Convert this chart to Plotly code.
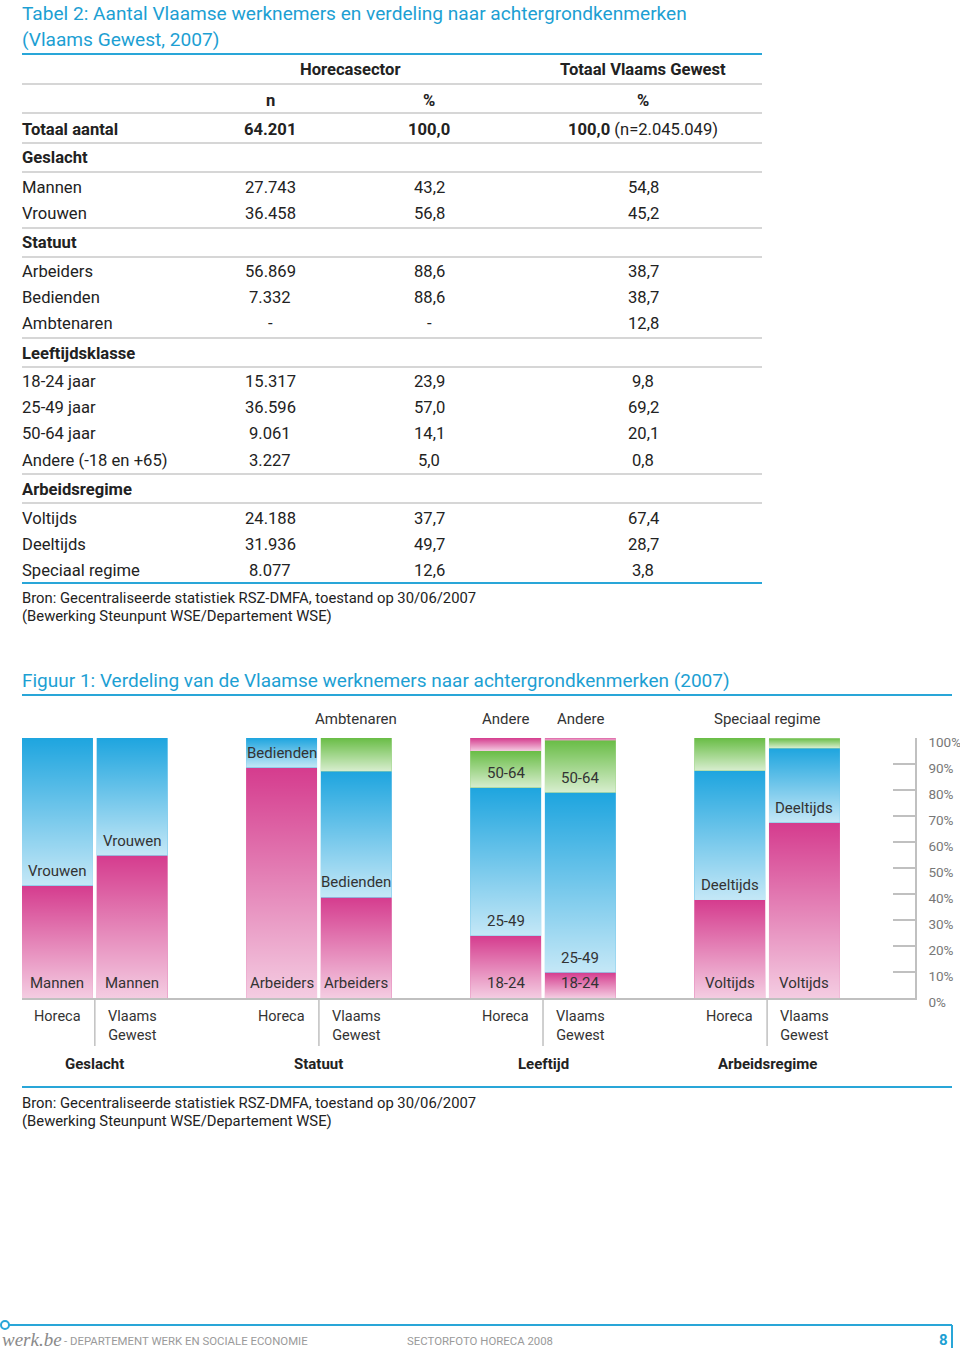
import base64
import plotly.graph_objects as go

W, H = 960, 1354
FONT = "Roboto"
BLUE_T = "#1d9fd3"
TXT = "#222222"

# ---------------- table data ----------------
table_title = ["Tabel 2: Aantal Vlaamse werknemers en verdeling naar achtergrondkenmerken",
               "(Vlaams Gewest, 2007)"]
col_groups = ["Horecasector", "Totaal Vlaams Gewest"]
col_heads = ["n", "%", "%"]
row_labels = ["Totaal aantal", "Geslacht", "Mannen", "Vrouwen", "Statuut", "Arbeiders",
              "Bedienden", "Ambtenaren", "Leeftijdsklasse", "18-24 jaar", "25-49 jaar",
              "50-64 jaar", "Andere (-18 en +65)", "Arbeidsregime", "Voltijds", "Deeltijds",
              "Speciaal regime"]
row_n = ["64.201", "", "27.743", "36.458", "", "56.869", "7.332", "-", "", "15.317", "36.596",
         "9.061", "3.227", "", "24.188", "31.936", "8.077"]
row_pct_horeca = ["100,0", "", "43,2", "56,8", "", "88,6", "88,6", "-", "", "23,9", "57,0",
                  "14,1", "5,0", "", "37,7", "49,7", "12,6"]
row_pct_vlaams = ["100,0", "", "54,8", "45,2", "", "38,7", "38,7", "12,8", "", "9,8", "69,2",
                  "20,1", "0,8", "", "67,4", "28,7", "3,8"]
row_bold = [True, True, False, False, True, False, False, False, True, False, False,
            False, False, True, False, False, False]
totaal_suffix = " (n=2.045.049)"
source_lines = ["Bron: Gecentraliseerde statistiek RSZ-DMFA, toestand op 30/06/2007",
                "(Bewerking Steunpunt WSE/Departement WSE)"]

# ---------------- chart data ----------------
fig_title = "Figuur 1: Verdeling van de Vlaamse werknemers naar achtergrondkenmerken (2007)"
group_names = ["Geslacht", "Statuut", "Leeftijd", "Arbeidsregime"]
bar_names = ["Horeca", "Vlaams<br>Gewest"]

geslacht_labels = ["Mannen", "Vrouwen"]
geslacht_horeca = [43.2, 56.8]
geslacht_vlaams = [54.8, 45.2]

statuut_labels = ["Arbeiders", "Bedienden", "Ambtenaren"]
statuut_horeca = [88.6, 11.4, 0.0]
statuut_vlaams = [38.7, 48.5, 12.8]

leeftijd_labels = ["18-24", "25-49", "50-64", "Andere"]
leeftijd_horeca = [23.9, 57.0, 14.1, 5.0]
leeftijd_vlaams = [9.8, 69.2, 20.1, 0.8]

regime_labels = ["Voltijds", "Deeltijds", "Speciaal regime"]
regime_horeca = [37.7, 49.7, 12.6]
regime_vlaams = [67.4, 28.7, 3.8]

y_ticks = [0, 10, 20, 30, 40, 50, 60, 70, 80, 90, 100]
y_ticktext = [f"{v}%" for v in y_ticks]

# ---------------- styling ----------------
MAG, BLU, GRN = "#d53c8e", "#1ea5df", "#69bd46"
groups = [
    (geslacht_labels, geslacht_horeca, geslacht_vlaams, [MAG, BLU], ["in", "in"]),
    (statuut_labels, statuut_horeca, statuut_vlaams, [MAG, BLU, GRN], ["in", "in", "top_v"]),
    (leeftijd_labels, leeftijd_horeca, leeftijd_vlaams, [MAG, BLU, GRN, MAG],
     ["in", "in", "in", "top_both"]),
    (regime_labels, regime_horeca, regime_vlaams, [MAG, BLU, GRN], ["in", "in", "top_group"]),
]
GROUP_STEP = 3
BAR_W = 0.95
LBL = 15
TB = 16.6  # table body font size
LX = 20    # left text anchor (annotation padding compensated)

svg = ("<svg xmlns='http://www.w3.org/2000/svg' width='10' height='100' viewBox='0 0 10 100' "
       "preserveAspectRatio='none'><defs><linearGradient id='g' x1='0' y1='0' x2='0' y2='1'>"
       "<stop offset='0' stop-color='white' stop-opacity='0'/>"
       "<stop offset='1' stop-color='white' stop-opacity='0.74'/></linearGradient></defs>"
       "<rect x='0' y='0' width='10' height='100' fill='url(#g)'/></svg>")
GRAD = "data:image/svg+xml;base64," + base64.b64encode(svg.encode()).decode()

fig = go.Figure()
annotations = []
images = []


def pa(x, y, text, size=TB, color=TXT, xanchor="left", family=FONT):
    annotations.append(dict(x=x / W, y=1 - y / H, xref="paper", yref="paper", text=text,
                            showarrow=False, xanchor=xanchor, yanchor="middle",
                            font=dict(size=size, color=color, family=family)))


for gi, (labels, vh, vv, colors, modes) in enumerate(groups):
    xs = [gi * GROUP_STEP, gi * GROUP_STEP + 1]
    base = [0.0, 0.0]
    for si, lab in enumerate(labels):
        vals = [vh[si], vv[si]]
        fig.add_trace(go.Bar(x=xs, y=vals, base=base, width=BAR_W,
                             marker=dict(color=colors[si], line=dict(width=0)),
                             name=lab, showlegend=False, hoverinfo="skip"))
        for bi in range(2):
            if vals[bi] <= 0:
                continue
            images.append(dict(source=GRAD, xref="x", yref="y", x=xs[bi] - BAR_W / 2,
                               y=base[bi] + vals[bi], sizex=BAR_W, sizey=vals[bi],
                               xanchor="left", yanchor="top", sizing="stretch",
                               layer="above"))
            if modes[si] == "in":
                annotations.append(dict(x=xs[bi], y=base[bi], xref="x", yref="y", text=lab,
                                        showarrow=False, yanchor="middle", yshift=15,
                                        font=dict(size=LBL, color="#333", family=FONT)))
            elif modes[si] == "top_both" or (modes[si] == "top_v" and bi == 1):
                annotations.append(dict(x=xs[bi], y=100, xref="x", yref="y", text=lab,
                                        showarrow=False, yanchor="middle", yshift=19,
                                        font=dict(size=LBL, color="#333", family=FONT)))
        if modes[si] == "top_group":
            annotations.append(dict(x=xs[0] + 0.5, y=100, xref="x", yref="y", text=lab,
                                    showarrow=False, yanchor="middle", yshift=19,
                                    font=dict(size=LBL, color="#333", family=FONT)))
        base = [base[0] + vals[0], base[1] + vals[1]]

    for bi in range(2):
        annotations.append(dict(x=xs[bi], y=0, xref="x", yref="y", text=bar_names[bi],
                                showarrow=False, yanchor="top", yshift=-8,
                                font=dict(size=14.5, color="#333", family=FONT)))
    annotations.append(dict(x=xs[0] + 0.5, y=0, xref="x", yref="y",
                            text=f"<b>{group_names[gi]}</b>", showarrow=False,
                            yanchor="middle", yshift=-66,
                            font=dict(size=15, color=TXT, family=FONT)))

shapes = []


def hline(y, x0, x1, color="#c8c8c8", width=1.5):
    shapes.append(dict(type="line", xref="paper", yref="paper", x0=x0 / W, x1=x1 / W,
                       y0=1 - y / H, y1=1 - y / H, line=dict(color=color, width=width)))


for gi in range(4):
    shapes.append(dict(type="line", xref="x", yref="paper", x0=gi * GROUP_STEP + 0.5,
                       x1=gi * GROUP_STEP + 0.5, y0=1 - 998 / H, y1=1 - 1046 / H,
                       line=dict(color="#c0c0c0", width=1.5)))

# ---------------- table drawing ----------------
pa(LX, 14, table_title[0], size=19.1, color=BLUE_T)
pa(LX, 40, table_title[1], size=19.1, color=BLUE_T)
hline(54, 22, 762, color="#29a6d8", width=2.2)
pa(350, 70, f"<b>{col_groups[0]}</b>", xanchor="center")
pa(643, 70, f"<b>{col_groups[1]}</b>", xanchor="center")
hline(84, 22, 762)
for x, t in zip([270, 429, 643], col_heads):
    pa(x, 100, f"<b>{t}</b>", xanchor="center")
hline(113, 22, 762)

row_y = [129, 158, 187, 213, 242, 271, 297, 323, 353, 381, 407, 433, 460, 489, 518, 544, 570]
line_after = [143, 172, None, 228, 257, None, None, 338, 367, None, None, None, 474, 503,
              None, None, None]
for i, lab in enumerate(row_labels):
    y = row_y[i]
    b = row_bold[i]
    pa(LX, y, f"<b>{lab}</b>" if b else lab)
    n, ph, pv = row_n[i], row_pct_horeca[i], row_pct_vlaams[i]
    if i == 0:
        pa(270, y, f"<b>{n}</b>", xanchor="center")
        pa(429, y, f"<b>{ph}</b>", xanchor="center")
        pa(643, y, f"<b>{pv}</b>{totaal_suffix}", xanchor="center")
    else:
        pa(270, y, n, xanchor="center")
        pa(429, y, ph, xanchor="center")
        pa(643, y, pv, xanchor="center")
    if line_after[i]:
        hline(line_after[i], 22, 762)
hline(583, 22, 762, color="#29a6d8", width=2.2)
pa(LX, 598, source_lines[0], size=14.8)
pa(LX, 616, source_lines[1], size=14.8)

# ---------------- figure heading / source ----------------
pa(LX, 680, fig_title, size=19, color=BLUE_T)
hline(695, 22, 952, color="#29a6d8", width=2.2)
hline(1087, 22, 952, color="#29a6d8", width=2.2)
pa(LX, 1103, source_lines[0], size=14.8)
pa(LX, 1121, source_lines[1], size=14.8)

# ---------------- footer ----------------
hline(1325, 9, 952, color="#29a6d8", width=2)
shapes.append(dict(type="line", xref="paper", yref="paper", x0=952 / W, x1=952 / W,
                   y0=1 - 1325 / H, y1=1 - 1348 / H, line=dict(color="#29a6d8", width=2)))
shapes.append(dict(type="circle", xref="paper", yref="paper", x0=1 / W, x1=9 / W,
                   y0=1 - 1321 / H, y1=1 - 1329 / H, line=dict(color="#29a6d8", width=2),
                   fillcolor="white"))
pa(0, 1339, "<i>werk.be</i>", size=19, color="#8a8a8a", family="Liberation Serif")
pa(62, 1341, "- DEPARTEMENT WERK EN SOCIALE ECONOMIE", size=11.4, color="#9a9a9a")
pa(405, 1341, "SECTORFOTO HORECA 2008", size=11.4, color="#9a9a9a")
pa(937, 1340, "<b>8</b>", size=15, color="#1d9fd3")

fig.update_layout(
    width=W, height=H, template="none", barmode="overlay",
    margin=dict(l=0, r=0, t=0, b=0), paper_bgcolor="white", plot_bgcolor="white",
    showlegend=False, annotations=annotations, shapes=shapes, images=images,
    xaxis=dict(domain=[22 / W, 915 / W], range=[-0.475, 11.48], showgrid=False,
               zeroline=False, showticklabels=False, ticks="", showline=True,
               linecolor="#c0c0c0", linewidth=2, automargin=False, fixedrange=True),
    yaxis=dict(domain=[1 - 998 / H, 1 - 738 / H], range=[0, 100], side="right",
               showgrid=False, zeroline=False, showline=True, linecolor="#c0c0c0",
               linewidth=1.5, ticks="inside", ticklen=22, tickcolor="#c0c0c0",
               tickwidth=1.5, tickvals=y_ticks, ticktext=y_ticktext,
               tickfont=dict(size=13.5, color="#777", family=FONT), ticklabelstandoff=9,
               ticklabelshift=4, automargin=False, fixedrange=True),
)

fig.write_html("out.html",
               config={"displayModeBar": False},
               post_script="document.body.style.margin='0';"
                           "document.body.style.overflow='hidden';")
